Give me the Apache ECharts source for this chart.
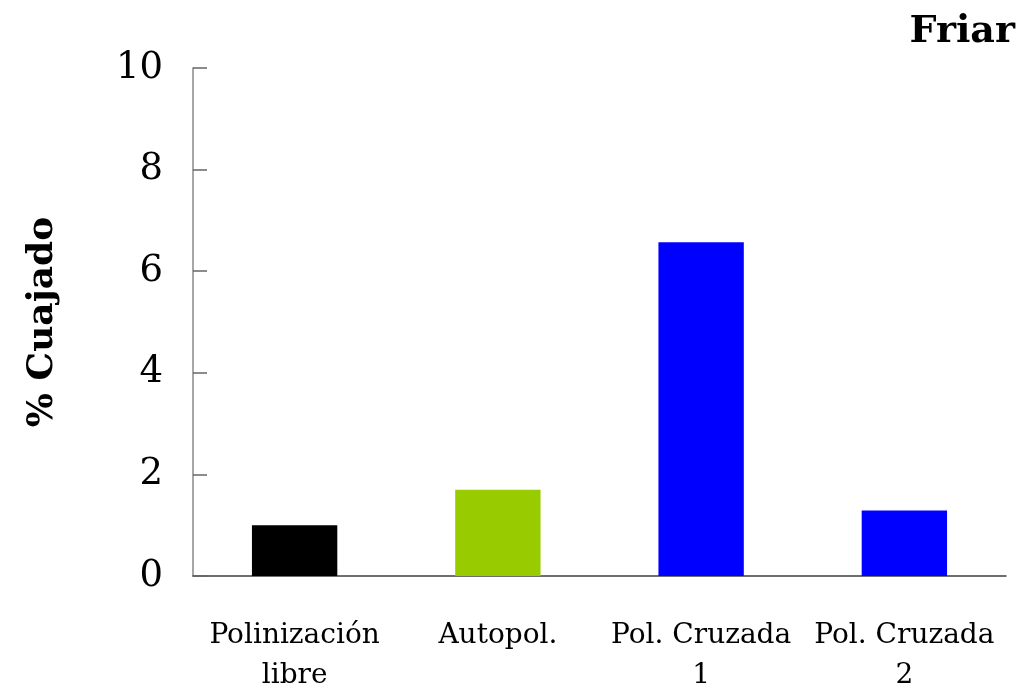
<!DOCTYPE html>
<html>
<head>
<meta charset="utf-8">
<script src="https://cdn.jsdelivr.net/npm/echarts@6/dist/echarts.min.js"></script>
<style>
	html, body { margin: 0; padding: 0; background: #fff; }
	#chart { width: 1023px; height: 694px; }
</style>
</head>
<body>
<div id="chart"></div>
<script>
// data
var categories = ['Polinización\nlibre', 'Autopol.', 'Pol. Cruzada\n1', 'Pol. Cruzada\n2'];
var cuajado = [1.0, 1.7, 6.57, 1.29];
var barColors = ['#000000', '#99cc00', '#0000ff', '#0000ff'];
var yTicks = { min: 0, max: 10, interval: 2 };

var serif = 'DejaVu Serif';

var chart = echarts.init(document.getElementById('chart'));

var option = {
	animation: false,
	backgroundColor: '#fff',
	title: {
		text: 'Friar',
		right: 3,
		top: 8,
		textStyle: { fontFamily: serif, fontWeight: 'bold', fontSize: 38, color: '#000' },
	},
	grid: { left: 193, right: 17, top: 68, bottom: 118, outerBoundsMode: 'none', containLabel: false },
	xAxis: {
		type: 'category',
		data: categories,
		axisLine: { lineStyle: { color: '#404040', width: 1.5 } },
		axisTick: { inside: true, length: 10, lineStyle: { color: '#404040', width: 1.5 } },
		axisLabel: {
			fontFamily: serif,
			fontSize: 28,
			color: '#000',
			margin: 40,
			lineHeight: 40,
			interval: 0,
		},
	},
	yAxis: {
		type: 'value',
		min: yTicks.min,
		max: yTicks.max,
		interval: yTicks.interval,
		name: '% Cuajado',
		nameLocation: 'middle',
		nameGap: 132,
		nameRotate: 90,
		nameTextStyle: { fontFamily: serif, fontWeight: 'bold', fontSize: 36, color: '#000' },
		axisLine: { show: true, lineStyle: { color: '#888', width: 1.5 } },
		axisTick: { show: true, inside: true, length: 14, lineStyle: { color: '#666', width: 1.5 } },
		splitLine: { show: false },
		axisLabel: { fontFamily: serif, fontSize: 37, color: '#000', margin: 30 },
	},
	series: [
		{
			type: 'bar',
			barWidth: '42%',
			data: cuajado.map(function(v, i) {
				return { value: v, itemStyle: { color: barColors[i] } };
			}),
		},
	],
};

chart.setOption(option);
</script>
</body>
</html>
